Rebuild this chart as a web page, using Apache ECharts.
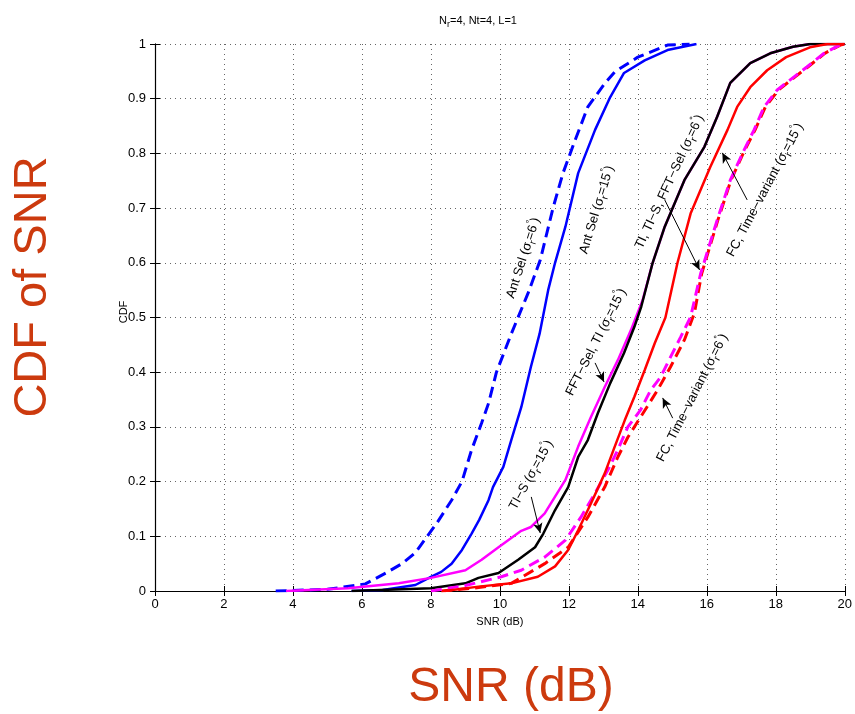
<!DOCTYPE html>
<html><head><meta charset="utf-8">
<script src="https://cdn.jsdelivr.net/npm/echarts@6/dist/echarts.min.js"></script>
<style>html,body{margin:0;padding:0;background:#fff}#c{width:855px;height:714px}</style>
</head><body><div id="c"></div>
<script>
var xTicks = [0,2,4,6,8,10,12,14,16,18,20];
var yTicks = [0,0.1,0.2,0.3,0.4,0.5,0.6,0.7,0.8,0.9,1];

var antSel6X = [3.5,5.0,6.1,6.7,7.16,7.55,7.86,8.17,8.6,8.9,9.18,9.47,9.67,9.9,10.33,10.82,11.17,11.54,11.83,12.18,12.55,13.04,13.33,14.0,14.86,15.5];
var antSel6Y = [0,0.003,0.013,0.033,0.05,0.07,0.097,0.124,0.166,0.2,0.258,0.307,0.343,0.4,0.47,0.545,0.605,0.70,0.764,0.824,0.885,0.928,0.949,0.976,0.998,1.0];

var antSel15X = [5.7,6.6,7.55,8.0,8.3,8.6,8.9,9.18,9.4,9.67,9.8,10.1,10.33,10.62,10.9,11.15,11.4,11.6,11.9,12.27,12.76,13.2,13.6,14.2,14.86,15.7];
var antSel15Y = [0,0.002,0.011,0.026,0.035,0.05,0.075,0.105,0.13,0.166,0.19,0.227,0.276,0.336,0.41,0.47,0.55,0.6,0.666,0.764,0.843,0.903,0.947,0.97,0.989,1.0];

var ti15X = [3.8,5.6,7.07,8.0,9.0,9.47,9.96,10.62,10.9,11.3,11.9,12.27,12.64,13.04,13.42,13.8,14.14,14.43,14.78,15.35,15.93,16.3,16.68,17.26,17.84,18.5,19.0,20];
var ti15Y = [0,0.005,0.014,0.024,0.038,0.057,0.08,0.11,0.117,0.142,0.203,0.264,0.318,0.373,0.422,0.477,0.532,0.6,0.666,0.751,0.812,0.867,0.929,0.965,0.983,0.995,1.0,1.0];

var ti6X = [5.7,8.0,9.0,9.38,9.96,10.53,11.02,11.26,11.6,11.98,12.27,12.55,12.84,13.2,13.6,13.9,14.1,14.43,14.78,15.35,15.93,16.3,16.68,17.26,17.84,18.5,19.0,20];
var ti6Y = [0,0.005,0.014,0.024,0.033,0.057,0.08,0.105,0.148,0.19,0.245,0.276,0.325,0.38,0.435,0.483,0.52,0.6,0.666,0.751,0.812,0.867,0.929,0.965,0.983,0.995,1.0,1.0];

var fc15X = [8.4,9.38,10.33,11.1,11.6,11.98,12.27,12.64,13.04,13.33,13.62,13.9,14.2,14.49,14.8,15.15,15.53,16.1,16.6,16.88,17.26,17.75,18.3,18.99,19.5,20];
var fc15Y = [0,0.008,0.014,0.026,0.045,0.075,0.111,0.16,0.215,0.264,0.312,0.355,0.404,0.453,0.5,0.6,0.69,0.775,0.843,0.885,0.921,0.952,0.976,0.994,1.0,1.0];

var fc6RedX = [8.3,9.2,10.33,11.3,11.98,12.55,13.04,13.42,13.71,14.08,14.57,14.95,15.35,15.64,15.85,16.32,16.7,17.1,17.4,17.7,18.08,18.56,18.93,19.42,19.87,20];
var fc6RedY = [0,0.005,0.014,0.05,0.08,0.135,0.19,0.245,0.281,0.318,0.367,0.41,0.459,0.508,0.58,0.678,0.751,0.806,0.843,0.885,0.916,0.94,0.958,0.983,0.998,1.0];

var fc6MagX = [8.0,9.0,10.04,10.62,11.3,11.9,12.35,12.76,13.13,13.42,13.71,14.08,14.37,14.66,14.95,15.24,15.53,15.82,16.3,16.68,17.08,17.37,17.66,18.04,18.53,18.9,19.4,19.85,20];
var fc6MagY = [0,0.01,0.026,0.038,0.062,0.093,0.135,0.179,0.221,0.258,0.3,0.331,0.367,0.391,0.428,0.464,0.501,0.58,0.678,0.751,0.806,0.843,0.885,0.916,0.94,0.958,0.983,0.998,1.0];

// annotation texts: [text, x, y, rotationDeg]
var annLabels = [
  ['Ant Sel (σ{sub|r}=6{sup|°})', 10.68, 0.609, 72],
  ['Ant Sel (σ{sub|r}=15{sup|°})', 12.81, 0.697, 73],
  ['TI, TI−S, FFT−Sel (σ{sub|r}=6{sup|°})', 14.92, 0.748, 65],
  ['FC, Time−variant (σ{sub|r}=15{sup|°})', 17.69, 0.733, 62],
  ['FFT−Sel, TI (σ{sub|r}=15{sup|°})', 12.79, 0.455, 63],
  ['TI−S (σ{sub|r}=15{sup|°})', 10.91, 0.212, 61],
  ['FC, Time−variant (σ{sub|r}=6{sup|°})', 15.58, 0.353, 63]
];
// arrows: [x0,y0,x1,y1]
var annArrows = [
  [10.91,0.172,11.17,0.106],
  [12.76,0.417,13.02,0.382],
  [14.78,0.715,15.79,0.587],
  [17.17,0.715,16.45,0.801],
  [15.01,0.316,14.72,0.353]
];

function pts(xs, ys){ return xs.map(function(x,i){return [x, ys[i]];}); }

var chart = echarts.init(document.getElementById('c'));
var FONT = 'Liberation Sans, Arial, Helvetica, sans-serif';
var dashed = [11,6];

function line(name, xs, ys, color, dash, width){
  return {name:name, type:'line', data:pts(xs,ys), showSymbol:false, symbol:'none',
    lineStyle:{color:color, width:width, type: dash ? dashed : 'solid'}, itemStyle:{color:color},
    animation:false, silent:true, z:2};
}

var option = {
  animation:false,
  backgroundColor:'#fff',
  title:{text:'N{sub|r}=4, Nt=4, L=1', left:473, top:7, textAlign:'center',
    textStyle:{fontFamily:FONT, fontSize:11, fontWeight:'normal', color:'#000',
      rich:{sub:{fontSize:9, verticalAlign:'bottom', padding:[8,0,0,0], fontFamily:FONT}}}},
  grid:{left:155, right:7, top:44, bottom:123, containLabel:false},
  xAxis:[{type:'value', min:0, max:20, interval:2,
    axisLine:{lineStyle:{color:'#000', width:1.2}}, axisTick:{inside:true, length:5, lineStyle:{color:'#000'}},
    axisLabel:{fontFamily:FONT, fontSize:13, color:'#000', margin:7},
    splitLine:{show:true, lineStyle:{color:'#666', type:[1,4], width:1}},
    name:'SNR (dB)', nameLocation:'middle', nameGap:25, nameTextStyle:{fontFamily:FONT, fontSize:11, color:'#000'}},
    {type:'value', min:0, max:20, interval:2, position:'top',
    axisLine:{lineStyle:{color:'#000', width:1}}, axisTick:{inside:true, length:5, lineStyle:{color:'#000'}},
    axisLabel:{show:false}, splitLine:{show:false}}],
  yAxis:[{type:'value', min:0, max:1, interval:0.1,
    axisLine:{lineStyle:{color:'#000', width:1.2}}, axisTick:{inside:true, length:5, lineStyle:{color:'#000'}},
    axisLabel:{fontFamily:FONT, fontSize:13, color:'#000', margin:9,
      formatter:function(v){ return (Math.round(v*10)/10).toString(); }},
    splitLine:{show:true, lineStyle:{color:'#666', type:[1,4], width:1}}},
    {type:'value', min:0, max:1, interval:0.1, position:'right',
    axisLine:{lineStyle:{color:'#000', width:1}}, axisTick:{inside:true, length:5, lineStyle:{color:'#000'}},
    axisLabel:{show:false}, splitLine:{show:false}}],
  series:[
    line('Ant Sel 6', antSel6X, antSel6Y, '#0000ff', true, 3),
    line('Ant Sel 15', antSel15X, antSel15Y, '#0000ff', false, 2.5),
    line('TI 15', ti15X, ti15Y, '#ff00ff', false, 2.5),
    line('TI 6', ti6X, ti6Y, '#000000', false, 2.5),
    line('FC 6 red', fc6RedX, fc6RedY, '#ff0000', true, 3),
    line('FC 6 mag', fc6MagX, fc6MagY, '#ff00ff', true, 3),
    line('FC 15', fc15X, fc15Y, '#ff0000', false, 2.5),
    {type:'line', data:[], silent:true, animation:false,
      markLine:{silent:true, symbol:['none','arrow'], symbolSize:[7,10], animation:false,
        label:{show:false}, lineStyle:{color:'#000', width:1, type:'solid'},
        data: annArrows.map(function(a){ return [{coord:[a[0],a[1]]},{coord:[a[2],a[3]]}]; })}}
  ]
};
chart.setOption(option);

var g = [];
annLabels.forEach(function(a){
  var p = chart.convertToPixel({gridIndex:0}, [a[1], a[2]]);
  g.push({type:'text', x:p[0], y:p[1], rotation:a[3]*Math.PI/180, z:10,
    style:{text:a[0], fontFamily:FONT, fontSize:13, fill:'#000', align:'center', verticalAlign:'middle',
      rich:{sub:{fontSize:10, fontFamily:FONT, fill:'#000', verticalAlign:'bottom', padding:[9,0,0,0]},
            sup:{fontSize:9, fontFamily:FONT, fill:'#000', verticalAlign:'top', padding:[0,0,8,0]}}}});
});
g.push({type:'text', x:124, y:312, rotation:Math.PI/2, style:{text:'CDF', fontFamily:FONT, fontSize:11, fill:'#000', align:'center', verticalAlign:'middle'}});
g.push({type:'text', x:33, y:287, rotation:Math.PI/2, style:{text:'CDF of SNR', fontFamily:FONT, fontSize:47, fill:'#cc3a0e', align:'center', verticalAlign:'middle'}});
g.push({type:'text', x:511, y:688, style:{text:'SNR (dB)', fontFamily:FONT, fontSize:48, fill:'#cc3a0e', align:'center', verticalAlign:'middle'}});
chart.setOption({graphic:g});
</script></body></html>
